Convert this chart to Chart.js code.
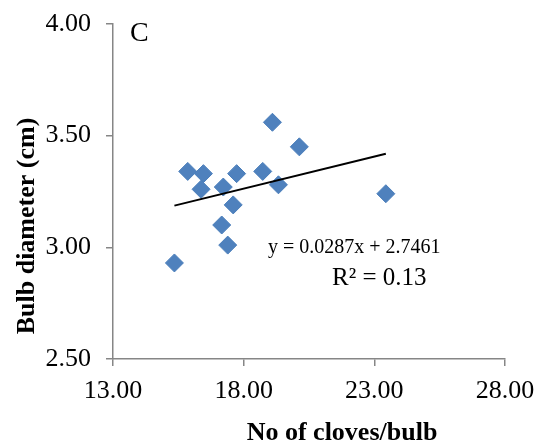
<!DOCTYPE html>
<html>
<head>
<meta charset="utf-8">
<script src="https://cdn.jsdelivr.net/npm/chart.js@4"></script>
<style>
  html, body { margin: 0; padding: 0; background: #fff; }
  #wrap { width: 538px; height: 442px; }
</style>
</head>
<body>
<div id="wrap"><canvas id="myChart" width="538" height="442"></canvas></div>
<script>
(function () {
    'use strict';

    // ── Data ───────────────────────────────────────────────────────────────────
    const clovesPerBulb = [15.35, 15.86, 16.46, 16.37, 17.16, 17.39, 17.22, 17.60,
                           17.73, 18.73, 19.10, 19.33, 20.13, 23.44];
    const bulbDiameter  = [2.93, 3.34, 3.33, 3.26, 3.10, 3.01, 3.27, 3.19,
                           3.33, 3.34, 3.56, 3.28, 3.45, 3.24];

    const xTicks = [13, 18, 23, 28];
    const yTicks = [2.5, 3.0, 3.5, 4.0];

    // linear trendline from the reference's equation
    const SLOPE     = 0.0287;
    const INTERCEPT = 2.7461;
    const R2        = 0.13;

    const PANEL_LABEL = 'C';
    const X_TITLE     = 'No of cloves/bulb';
    const Y_TITLE     = 'Bulb diameter (cm)';

    const points = clovesPerBulb.map((x, i) => ({ x: x, y: bulbDiameter[i] }));
    const xLo = Math.min(...clovesPerBulb);
    const xHi = Math.max(...clovesPerBulb);
    const trend = [xLo, xHi].map(x => ({ x: x, y: SLOPE * x + INTERCEPT }));

    const SERIF = '"Liberation Serif", "Times New Roman", serif';
    const AXIS_GREY = '#868686';

    // ── Annotations: titles, panel letter, equation ────────────────────────────
    const annotationPlugin = {
        id: 'annotations',
        afterDraw(chart) {
            const ctx = chart.ctx;
            ctx.save();
            ctx.fillStyle = '#000';

            // panel letter
            ctx.font = '28px ' + SERIF;
            ctx.textAlign = 'left';
            ctx.textBaseline = 'alphabetic';
            ctx.fillText(PANEL_LABEL, 130, 41);

            // trendline equation
            ctx.font = '20px ' + SERIF;
            ctx.fillText('y = ' + SLOPE + 'x + ' + INTERCEPT, 268, 253);
            ctx.font = '25px ' + SERIF;
            ctx.fillText('R\u00B2 = ' + R2.toFixed(2), 332, 285);

            // x axis title
            ctx.font = 'bold 26px ' + SERIF;
            ctx.textAlign = 'center';
            ctx.fillText(X_TITLE, 342, 440);

            // y axis title
            ctx.translate(27, 226);
            ctx.rotate(-Math.PI / 2);
            ctx.textBaseline = 'middle';
            ctx.fillText(Y_TITLE, 0, 0);

            ctx.restore();
        }
    };

    // ── Chart ──────────────────────────────────────────────────────────────────
    const chart = new Chart(document.getElementById('myChart'), {
        type: 'scatter',
        data: {
            datasets: [{
                label: 'Bulb diameter',
                data: points,
                pointStyle: 'rectRot',
                pointRadius: 9,
                pointHoverRadius: 9,
                backgroundColor: '#4F81BD',
                borderColor: '#4A7EBB',
                borderWidth: 1,
                order: 2
            }, {
                type: 'line',
                label: 'Linear trend',
                data: trend,
                borderColor: '#000',
                borderWidth: 2,
                pointRadius: 0,
                fill: false,
                order: 1
            }]
        },
        options: {
            responsive: false,
            animation: false,
            devicePixelRatio: 1,
            layout: { padding: { top: 24, right: 33, left: 0, bottom: 0 } },
            plugins: {
                legend: { display: false },
                tooltip: { enabled: false }
            },
            scales: {
                x: {
                    type: 'linear',
                    min: 13, max: 28,
                    afterBuildTicks: (s) => { s.ticks = xTicks.map(v => ({ value: v })); },
                    afterFit: (s) => { s.height = 83; s.paddingLeft = 0; s.paddingRight = 0; },
                    ticks: {
                        callback: (v) => v.toFixed(2),
                        font: { family: SERIF, size: 26 },
                        color: '#000',
                        padding: 10,
                        maxRotation: 0
                    },
                    grid: { drawOnChartArea: false, drawTicks: true, tickLength: 7, color: AXIS_GREY, lineWidth: 1.5 },
                    border: { display: true, color: AXIS_GREY, width: 1.5 }
                },
                y: {
                    type: 'linear',
                    min: 2.5, max: 4,
                    afterBuildTicks: (s) => { s.ticks = yTicks.map(v => ({ value: v })); },
                    afterFit: (s) => { s.width = 113; s.paddingTop = 0; s.paddingBottom = 0; },
                    ticks: {
                        callback: (v) => v.toFixed(2),
                        font: { family: SERIF, size: 26 },
                        color: '#000',
                        padding: 15
                    },
                    grid: { drawOnChartArea: false, drawTicks: true, tickLength: 7, color: AXIS_GREY, lineWidth: 1.5 },
                    border: { display: true, color: AXIS_GREY, width: 1.5 }
                }
            }
        },
        plugins: [annotationPlugin]
    });

}());
</script>
</body>
</html>
